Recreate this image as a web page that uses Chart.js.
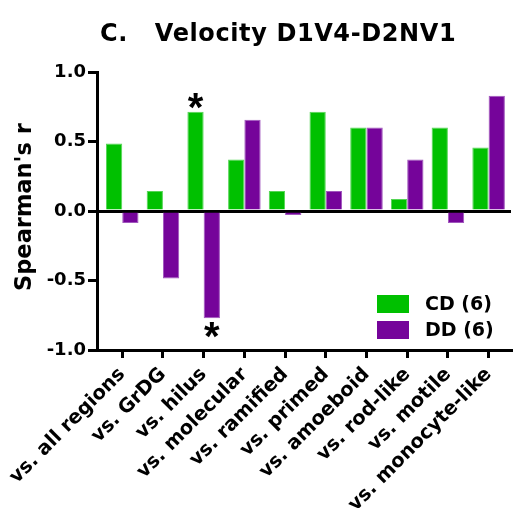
<!DOCTYPE html>
<html>
<head>
<meta charset="utf-8">
<script src="https://cdn.jsdelivr.net/npm/chart.js@4/dist/chart.umd.min.js"></script>
<style>
  html, body { margin: 0; padding: 0; background: #fff; }
  #wrap { width: 513px; height: 508px; }
</style>
</head>
<body>
<div id="wrap"><canvas id="grafiek" width="513" height="508"></canvas></div>
<script>
// data (Spearman's r, n = 6)
const categories = ["vs. all regions", "vs. GrDG", "vs. hilus", "vs. molecular", "vs. ramified",
                    "vs. primed", "vs. amoeboid", "vs. rod-like", "vs. motile", "vs. monocyte-like"];
const cdValues = [0.486, 0.143, 0.714, 0.371, 0.143, 0.714, 0.6, 0.086, 0.6, 0.457];
const ddValues = [-0.086, -0.486, -0.771, 0.657, -0.029, 0.143, 0.6, 0.371, -0.086, 0.829];
const cdStars = [false, false, true, false, false, false, false, false, false, false];
const ddStars = [false, false, true, false, false, false, false, false, false, false];
const yTicks = [-1.0, -0.5, 0.0, 0.5, 1.0];
const seriesLabels = ["CD (6)", "DD (6)"];
const titleText = "C.   Velocity D1V4-D2NV1";

const FONT = "'DejaVu Sans', 'Liberation Sans', Arial, sans-serif";
const green = "#00c000";
const purple = "#75049a";

// titel, sterretjes en legende zelf tekenen
const extras = {
    id: "extras",
    afterDraw(chart) {
        const ctx = chart.ctx;
        const area = chart.chartArea;
        ctx.save();
        ctx.fillStyle = "#000";

        ctx.font = "bold 24px " + FONT;
        ctx.letterSpacing = "0.6px";
        ctx.textAlign = "left";
        ctx.textBaseline = "alphabetic";
        ctx.fillText(titleText, 100, 41);
        ctx.letterSpacing = "0px";

        // sterretjes bij significante balken
        ctx.font = "bold 40px 'Liberation Sans', Arial, sans-serif";
        ctx.textAlign = "center";
        const m = ctx.measureText("*");
        const half = (m.actualBoundingBoxAscent - m.actualBoundingBoxDescent) / 2;
        [cdStars, ddStars].forEach((stars, di) => {
            const meta = chart.getDatasetMeta(di);
            stars.forEach((s, i) => {
                if (!s) return;
                const bar = meta.data[i];
                const v = chart.data.datasets[di].data[i];
                const cy = v >= 0 ? bar.y - 11 : bar.y + 12;
                ctx.fillText("*", bar.x, cy + half);
            });
        });

        // legende rechtsonder in het grafiekvlak
        const colors = [green, purple];
        ctx.font = "bold 19px " + FONT;
        ctx.textAlign = "left";
        ctx.textBaseline = "middle";
        seriesLabels.forEach((lab, i) => {
            const bx = area.right - 134;
            const by = area.bottom - 55 + i * 26;
            ctx.fillStyle = colors[i];
            ctx.fillRect(bx, by, 32, 18);
            ctx.fillStyle = "#000";
            ctx.fillText(lab, bx + 48, by + 10);
        });
        ctx.restore();
    }
};

const ctx = document.getElementById("grafiek").getContext("2d");
new Chart(ctx, {
    type: "bar",
    data: {
        labels: categories,
        datasets: [
            {
                label: seriesLabels[0],
                data: cdValues,
                backgroundColor: green,
                borderColor: "#55d555",
                borderWidth: 1
            },
            {
                label: seriesLabels[1],
                data: ddValues,
                backgroundColor: purple,
                borderColor: "#a056bd",
                borderWidth: 1
            }
        ]
    },
    options: {
        responsive: false,
        animation: false,
        layout: { padding: { top: 72, right: 2, bottom: 0, left: 0 } },
        datasets: { bar: { categoryPercentage: 0.8, barPercentage: 1.0 } },
        plugins: {
            legend: { display: false },
            title: { display: false },
            tooltip: { enabled: false }
        },
        scales: {
            x: {
                grid: {
                    offset: false,
                    drawOnChartArea: false,
                    color: "#000",
                    lineWidth: 3,
                    tickLength: 8
                },
                border: { color: "#000", width: 3 },
                ticks: {
                    autoSkip: false,
                    minRotation: 45,
                    maxRotation: 45,
                    padding: 5,
                    color: "#000",
                    font: { family: FONT, size: 19.5, weight: "bold" }
                },
                // kleine witruimte tussen y-as en eerste balk, zoals in het origineel
                afterBuildTicks(scale) {
                    scale._startValue = -0.62;
                    scale._valueRange = categories.length + 0.17;
                },
                afterFit(scale) {
                    scale.height = 158;
                    scale.paddingLeft = 0;
                    scale.paddingRight = 0;
                }
            },
            y: {
                min: -1,
                max: 1,
                afterBuildTicks(scale) {
                    scale.ticks = yTicks.map(v => ({ value: v }));
                },
                grid: {
                    color: c => (c.tick && c.tick.value === 0 ? "#000" : "rgba(0,0,0,0)"),
                    tickColor: "#000",
                    lineWidth: 3,
                    tickLength: 9
                },
                border: { color: "#000", width: 3 },
                ticks: {
                    padding: 2,
                    color: "#000",
                    font: { family: FONT, size: 18, weight: "bold" },
                    callback: v => Number(v).toFixed(1)
                },
                title: {
                    display: true,
                    text: " Spearman's r",
                    color: "#000",
                    font: { family: FONT, size: 22.5, weight: "bold" },
                    padding: { top: 12, bottom: 0 }
                },
                afterFit(scale) {
                    scale.width = 97;
                    scale.paddingTop = 0;
                    scale.paddingBottom = 0;
                }
            }
        }
    },
    plugins: [extras]
});
</script>
</body>
</html>
